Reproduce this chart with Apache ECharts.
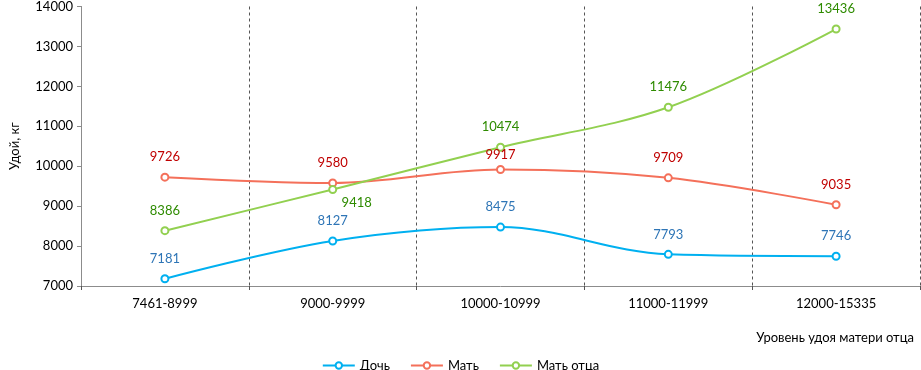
<!DOCTYPE html>
<html>
<head>
<meta charset="utf-8">
<script src="https://cdn.jsdelivr.net/npm/echarts@6/dist/echarts.min.js"></script>
<style>
  html, body { margin: 0; padding: 0; background: #fff; }
  #chart { width: 921px; height: 370px; }
</style>
</head>
<body>
<div id="chart"></div>
<script>
const categories = ["7461-8999", "9000-9999", "10000-10999", "11000-11999", "12000-15335"];
const daughter = [7181, 8127, 8475, 7793, 7746];
const mother = [9726, 9580, 9917, 9709, 9035];
const sireDam = [8386, 9418, 10474, 11476, 13436];

const font = "Lato, 'Open Sans', sans-serif";
const chart = echarts.init(document.getElementById("chart"));

function lineSeries(name, data, lineColor, labelColor, labelPos) {
  return {
    name,
    type: "line",
    data: data.map((v, i) => ({
      value: v,
      label: labelPos && labelPos[i] ? labelPos[i] : undefined,
    })),
    smooth: 0.35,
    symbol: "emptyCircle",
    symbolSize: 7,
    lineStyle: { width: 2, color: lineColor },
    itemStyle: { color: lineColor, borderWidth: 1.5 },
    label: {
      show: true,
      position: "top",
      distance: 9,
      color: labelColor,
      fontFamily: font,
      fontSize: 13,
    },
  };
}

chart.setOption({
  animation: false,
  textStyle: { fontFamily: font },
  grid: { left: 72, right: 1, top: 5, bottom: 84 },
  legend: {
    top: 354,
    left: "center",
    itemWidth: 32,
    itemHeight: 8,
    itemGap: 20,
    textStyle: { fontFamily: font, fontSize: 13, color: "#000" },
    data: ["Дочь", "Мать", "Мать отца"],
  },
  xAxis: {
    type: "category",
    data: categories,
    name: "Уровень удоя матери отца",
    nameLocation: "end",
    nameGap: 0,
    nameTextStyle: {
      fontFamily: font, fontSize: 13, color: "#000",
      align: "right", verticalAlign: "top", padding: [45, 6, 0, 0],
    },
    axisLine: { lineStyle: { color: "#8c8c8c", width: 1 } },
    axisTick: { show: true, length: 4, lineStyle: { color: "#555", type: "dashed" } },
    axisLabel: { color: "#000", fontSize: 13, fontFamily: font, margin: 11 },
    splitLine: { show: true, lineStyle: { color: "#555", type: [3, 3], width: 1 } },
  },
  yAxis: {
    type: "value",
    min: 7000,
    max: 14000,
    interval: 1000,
    name: "Удой, кг",
    nameLocation: "middle",
    nameGap: 60,
    nameTextStyle: { fontFamily: font, fontSize: 13, color: "#000" },
    axisLine: { show: true, lineStyle: { color: "#8c8c8c", width: 1 } },
    axisTick: { show: true, length: 4, lineStyle: { color: "#8c8c8c" } },
    axisLabel: { color: "#000", fontSize: 13, fontFamily: font, margin: 8, formatter: (v) => String(v) },
    splitLine: { show: false },
  },
  series: [
    lineSeries("Дочь", daughter, "#00b0f0", "#2e75b6"),
    lineSeries("Мать", mother, "#f4705a", "#c00000",
      [null, null, { distance: 4 }, null, null]),
    lineSeries("Мать отца", sireDam, "#92d050", "#2e8b00",
      [null, { position: "bottom", offset: [24, 0], distance: 2 }, null, null, null]),
  ],
});
</script>
</body>
</html>
